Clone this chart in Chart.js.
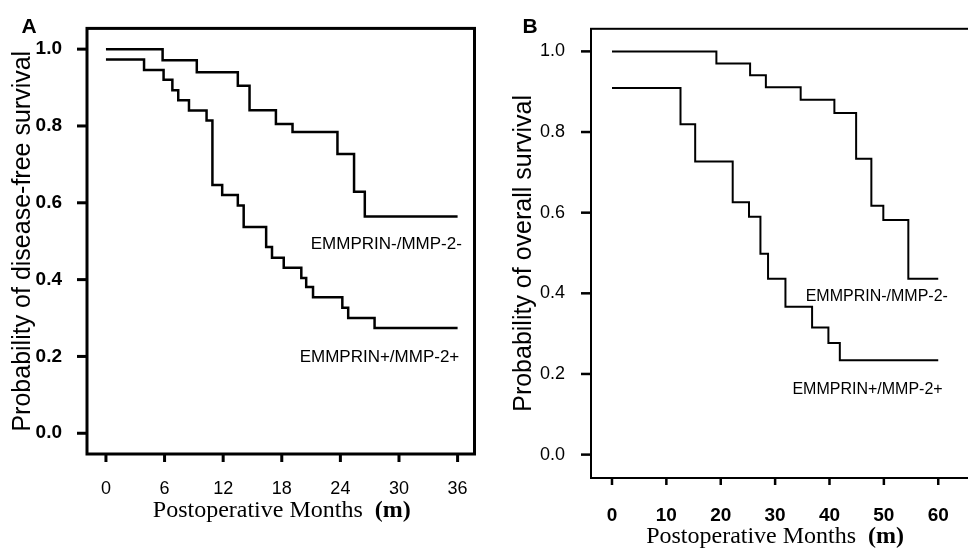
<!DOCTYPE html>
<html>
<head>
<meta charset="utf-8">
<script src="https://cdn.jsdelivr.net/npm/chart.js@4.4.0/dist/chart.umd.min.js"></script>
<style>
html,body{margin:0;padding:0;background:#fff;overflow:hidden;width:968px;height:548px;}
#wrapA{position:absolute;left:0;top:0;width:484px;height:548px;}
#wrapB{position:absolute;left:484px;top:0;width:520px;height:548px;}
</style>
</head>
<body>
<div id="wrapA"><canvas id="chartA" width="484" height="548"></canvas></div>
<div id="wrapB"><canvas id="chartB" width="520" height="548"></canvas></div>
<script>
// Painel A - disease-free survival
var mesesA_neg = [0, 5.8, 9.3, 13.5, 14.7, 17.4, 19.1, 23.7, 25.4, 26.5, 36];
var survA_neg  = [1.0, 0.971, 0.94, 0.905, 0.841, 0.805, 0.784, 0.727, 0.629, 0.564, 0.564];
var mesesA_pos = [0, 3.9, 5.9, 6.8, 7.4, 8.5, 10.3, 10.9, 11.9, 13.5, 14.1, 16.4, 17.0, 18.2, 20.0, 20.5, 21.2, 24.2, 24.8, 27.5, 36];
var survA_pos  = [0.973, 0.946, 0.92, 0.893, 0.867, 0.84, 0.814, 0.646, 0.62, 0.593, 0.537, 0.485, 0.457, 0.431, 0.404, 0.381, 0.354, 0.327, 0.30, 0.274, 0.274];
var ticksXA = [0, 6, 12, 18, 24, 30, 36];

// Painel B - overall survival
var mesesB_neg = [0, 19.2, 25.4, 28.3, 34.7, 40.9, 44.9, 47.7, 49.9, 54.5, 60];
var survB_neg  = [1.0, 0.97, 0.941, 0.911, 0.88, 0.847, 0.734, 0.617, 0.582, 0.436, 0.436];
var mesesB_pos = [0, 12.6, 15.3, 22.2, 25.2, 27.3, 28.7, 31.9, 36.8, 39.8, 41.9, 60];
var survB_pos  = [0.909, 0.819, 0.727, 0.626, 0.59, 0.498, 0.436, 0.367, 0.315, 0.277, 0.234, 0.234];
var ticksXB = [0, 10, 20, 30, 40, 50, 60];

var ticksY = [0, 0.2, 0.4, 0.6, 0.8, 1.0];
var grupos = ['EMMPRIN-/MMP-2-', 'EMMPRIN+/MMP-2+'];
var tituloX = 'Postoperative Months  ';
var tituloXm = '(m)';

var SANS = "'Liberation Sans', Arial, sans-serif";
var SERIF = "'Liberation Serif', 'Times New Roman', serif";

// espessura e comprimento das marcas (A, B)
var TICK = {A: {w: 3, x: 8, y: 10}, B: {w: 2.5, x: 7, y: 10}};

function pontos(meses, surv){
    return meses.map(function(m, i){ return {x: m, y: surv[i]}; });
}

// caixa, marcas dos ticks, letra do painel, titulo do eixo x e rotulos das curvas
var extras = {
    id: 'extras',
    afterDraw: function(chart, args, o){
        var ctx = chart.ctx;
        var a = chart.chartArea;
        var sx = chart.scales.x, sy = chart.scales.y;
        var tk = TICK[o.letra];
        ctx.save();
        ctx.fillStyle = '#000';
        ctx.strokeStyle = '#000';
        ctx.lineWidth = o.box;
        ctx.strokeRect(a.left, a.top, a.right - a.left, a.bottom - a.top);

        // marcas para fora da caixa
        var lx = chart.options.plugins.extras.ticksX;
        for (var i = 0; i < lx.length; i++){
            var px = sx.getPixelForValue(lx[i]);
            ctx.fillRect(px - tk.w / 2, a.bottom, tk.w, tk.x);
        }
        for (var j = 0; j < ticksY.length; j++){
            var py = sy.getPixelForValue(ticksY[j]);
            ctx.fillRect(a.left - tk.y, py - tk.w / 2, tk.y, tk.w);
        }

        ctx.font = 'bold 21px ' + SANS;
        ctx.textAlign = 'center';
        ctx.textBaseline = 'alphabetic';
        ctx.fillText(o.letra, o.letraX, 33);

        // titulo x com "(m)" em negrito
        ctx.font = '24px ' + SERIF;
        var w1 = ctx.measureText(tituloX).width;
        ctx.font = 'bold 24px ' + SERIF;
        var w2 = ctx.measureText(tituloXm).width;
        var cx = sx.getPixelForValue((lx[0] + lx[lx.length-1]) / 2);
        var x0 = cx - (w1 + w2) / 2;
        var yb = a.bottom + o.tituloDy;
        ctx.textAlign = 'left';
        ctx.font = '24px ' + SERIF;
        ctx.fillText(tituloX, x0, yb);
        ctx.font = 'bold 24px ' + SERIF;
        ctx.fillText(tituloXm, x0 + w1, yb);

        ctx.textAlign = 'center';
        ctx.textBaseline = 'middle';
        ctx.font = o.rotuloFonte + 'px ' + SANS;
        o.rotulos.forEach(function(r){
            ctx.fillText(r.t, sx.getPixelForValue(r.x), sy.getPixelForValue(r.y));
        });
        ctx.restore();
    }
};

function criarPainel(id, c){
    return new Chart(document.getElementById(id), {
        type: 'line',
        data: {
            datasets: [{
                label: grupos[0],
                data: pontos(c.m1, c.s1),
                borderColor: '#000',
                borderWidth: c.linha,
                pointRadius: 0,
                stepped: 'before',
                fill: false
            },{
                label: grupos[1],
                data: pontos(c.m2, c.s2),
                borderColor: '#000',
                borderWidth: c.linha,
                pointRadius: 0,
                stepped: 'before',
                fill: false
            }]
        },
        options: {
            responsive: false,
            animation: false,
            devicePixelRatio: 1,
            layout: { padding: c.padding },
            plugins: {
                legend: { display: false },
                tooltip: { enabled: false },
                extras: c.extras
            },
            scales: {
                x: {
                    type: 'linear',
                    min: c.xMin, max: c.xMax,
                    afterBuildTicks: function(s){ s.ticks = c.ticksX.map(function(v){ return {value: v}; }); },
                    afterFit: function(s){ s.height = c.alturaX; },
                    grid: { display: false },
                    border: { display: false },
                    ticks: { color: '#000', padding: c.padX, maxRotation: 0, font: c.fonteX }
                },
                y: {
                    min: c.yMin, max: c.yMax,
                    afterBuildTicks: function(s){ s.ticks = ticksY.map(function(v){ return {value: v}; }); },
                    afterFit: function(s){ s.width = c.larguraY; },
                    grid: { display: false },
                    border: { display: false },
                    ticks: { color: '#000', padding: c.padY, font: c.fonteY, callback: function(v){ return v.toFixed(1); } },
                    title: { display: true, text: c.tituloY, color: '#000', padding: {top: c.tituloYPad, bottom: 0}, font: {family: SANS, size: 25} }
                }
            }
        },
        plugins: [extras]
    });
}

window.addEventListener('load', function(){
    criarPainel('chartA', {
        m1: mesesA_neg, s1: survA_neg, m2: mesesA_pos, s2: survA_pos,
        ticksX: ticksXA, linha: 2.5,
        xMin: -1.94, xMax: 37.73, yMin: -0.054, yMax: 1.054,
        padding: {left: 0, top: 25, right: 9, bottom: 0},
        alturaX: 94, larguraY: 87, padX: 16, padY: 17,
        fonteX: {family: SANS, size: 18},
        fonteY: {family: SANS, size: 19, weight: 'bold'},
        tituloY: 'Probability of disease-free survival', tituloYPad: 8,
        extras: {
            box: 3, letra: 'A', letraX: 29, ticksX: ticksXA, tituloDy: 63, rotuloFonte: 17,
            rotulos: [{t: grupos[0], x: 28.7, y: 0.493}, {t: grupos[1], x: 28.0, y: 0.198}]
        }
    });
    criarPainel('chartB', {
        m1: mesesB_neg, s1: survB_neg, m2: mesesB_pos, s2: survB_pos,
        ticksX: ticksXB, linha: 2,
        xMin: -3.86, xMax: 68.6, yMin: -0.058, yMax: 1.056,
        padding: {left: 0, top: 13, right: 19, bottom: 0},
        alturaX: 70, larguraY: 107, padX: 18, padY: 18,
        fonteX: {family: SANS, size: 19, weight: 'bold'},
        fonteY: {family: SANS, size: 18},
        tituloY: 'Probability of overall survival', tituloYPad: 25,
        extras: {
            box: 2, letra: 'B', letraX: 46, ticksX: ticksXB, tituloDy: 65, rotuloFonte: 16,
            rotulos: [{t: grupos[0], x: 48.7, y: 0.392}, {t: grupos[1], x: 47.0, y: 0.161}]
        }
    });
});
</script>
</body>
</html>
